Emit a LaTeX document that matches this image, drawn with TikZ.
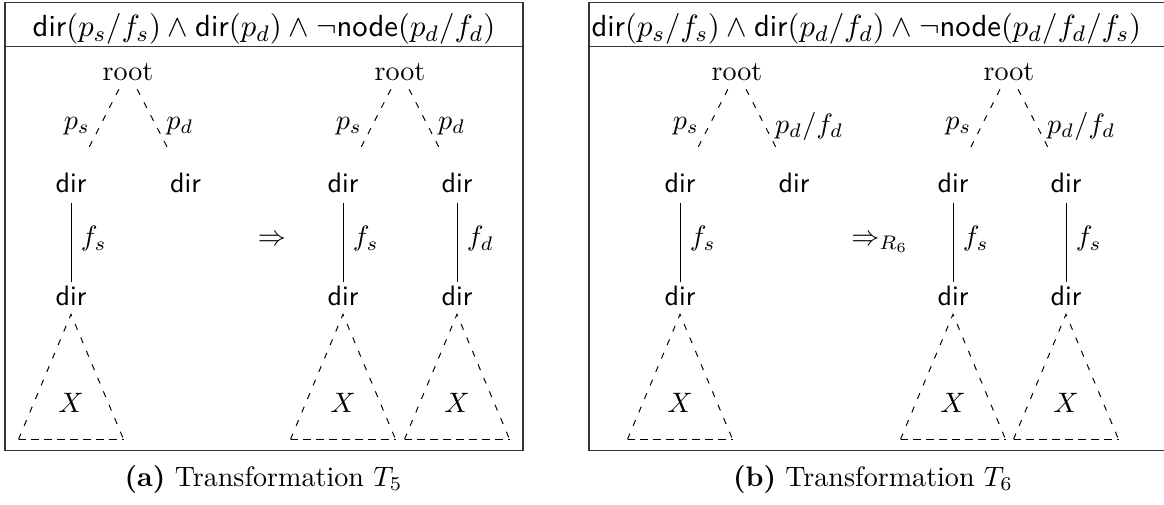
\documentclass[tikz,border=0pt]{standalone}
\begin{document}
\begin{tikzpicture}[x=0.356pt,y=-0.356pt,
  rootn/.style={inner sep=3pt,anchor=base},
  dirn/.style={font=\sffamily,inner sep=3pt,anchor=base},
  hdr/.style={inner sep=0pt,anchor=base,font=\fontsize{10.9}{13}\selectfont},
  dlink/.style={line width=0.35pt,dash pattern=on 2.2pt off 3pt,shorten >=4.8pt},
  slink/.style={line width=0.35pt,shorten <=0.5pt,shorten >=-1.8pt},
  side/.style={line width=0.35pt,dash pattern=on 2.2pt off 3pt},
  base/.style={line width=0.35pt,dash pattern=on 2.8pt off 1.8pt},
  frame/.style={line width=0.5pt,draw=black!80}]
\useasboundingbox (0,0) rectangle (1164,504);

% ---------- left panel (a) ----------
\draw[frame] (5,2.7) rectangle (523,450.7);
\draw[frame] (5,46.7) -- (523,46.7);
\node[hdr] (ha) at (264,36.7) {$\textsf{dir}(p_s/f_s)\wedge\textsf{dir}(p_d)\wedge\neg\textsf{node}(p_d/f_d)$};

\node[rootn] (r1) at (128,80) {root};
\node[rootn] (r2) at (400,80) {root};
\node[dirn] (a1) at (71,192) {dir};
\node[dirn] (a2) at (185.5,192) {dir};
\node[dirn] (a3) at (343,192) {dir};
\node[dirn] (a4) at (457,192) {dir};
\node[dirn] (b1) at (71,305) {dir};
\node[dirn] (b3) at (343,305) {dir};
\node[dirn] (b4) at (457,305) {dir};

\draw[dlink] (r1) -- node[midway,left]{$p_s$} (a1);
\draw[dlink] (r1) -- node[midway,right]{$p_d$} (a2);
\draw[dlink] (r2) -- node[midway,left]{$p_s$} (a3);
\draw[dlink] (r2) -- node[midway,right]{$p_d$} (a4);
\draw[slink] (a1) -- node[midway,right]{$f_s$} (b1);
\draw[slink] (a3) -- node[midway,right]{$f_s$} (b3);
\draw[slink] (a4) -- node[midway,right]{$f_d$} (b4);

\foreach \n in {b1,b3,b4}{
  \coordinate (\n L) at ([shift={(-52.5,125)}]\n.south);
  \coordinate (\n R) at ([shift={(52.5,125)}]\n.south);
  \draw[side] (\n L) -- (\n.south) -- (\n R);
  \draw[base] (\n L) -- (\n R);
}
\node (x1) at (71,403) {$X$};
\node (x3) at (343,403) {$X$};
\node (x4) at (457,403) {$X$};

\node[anchor=base] (ta) at (272,245) {$\Rightarrow$};
\node[anchor=base] (ca) at (263.5,486) {\textbf{(a)} Transformation $T_5$};

% ---------- right panel (b) ----------
\draw[frame] (1175,2.7) -- (589,2.7) -- (589,450.7) -- (1175,450.7);
\draw[frame] (589,46.7) -- (1175,46.7);
\node[hdr,anchor=base west] (hb) at (591,36.7) {$\textsf{dir}(p_s/f_s)\wedge\textsf{dir}(p_d/f_d)\wedge\neg\textsf{node}(p_d/f_d/f_s)$};

\node[rootn] (r3) at (737,80) {root};
\node[rootn] (r4) at (1009,80) {root};
\node[dirn] (c1) at (680,192) {dir};
\node[dirn] (c2) at (794,192) {dir};
\node[dirn] (c3) at (953,192) {dir};
\node[dirn] (c4) at (1066,192) {dir};
\node[dirn] (d1) at (680,305) {dir};
\node[dirn] (d3) at (953,305) {dir};
\node[dirn] (d4) at (1066,305) {dir};

\draw[dlink] (r3) -- node[midway,left]{$p_s$} (c1);
\draw[dlink] (r3) -- node[midway,right]{$p_d/f_d$} (c2);
\draw[dlink] (r4) -- node[midway,left]{$p_s$} (c3);
\draw[dlink] (r4) -- node[midway,right]{$p_d/f_d$} (c4);
\draw[slink] (c1) -- node[midway,right]{$f_s$} (d1);
\draw[slink] (c3) -- node[midway,right]{$f_s$} (d3);
\draw[slink] (c4) -- node[midway,right]{$f_s$} (d4);

\foreach \n in {d1,d3,d4}{
  \coordinate (\n L) at ([shift={(-52.5,125)}]\n.south);
  \coordinate (\n R) at ([shift={(52.5,125)}]\n.south);
  \draw[side] (\n L) -- (\n.south) -- (\n R);
  \draw[base] (\n L) -- (\n R);
}
\node (y1) at (680,403) {$X$};
\node (y3) at (953,403) {$X$};
\node (y4) at (1066,403) {$X$};

\node[anchor=base] (tb) at (880,245) {$\Rightarrow_{R_6}$};
\node[anchor=base] (cb) at (873,486) {\textbf{(b)} Transformation $T_6$};
\end{tikzpicture}
\end{document}
